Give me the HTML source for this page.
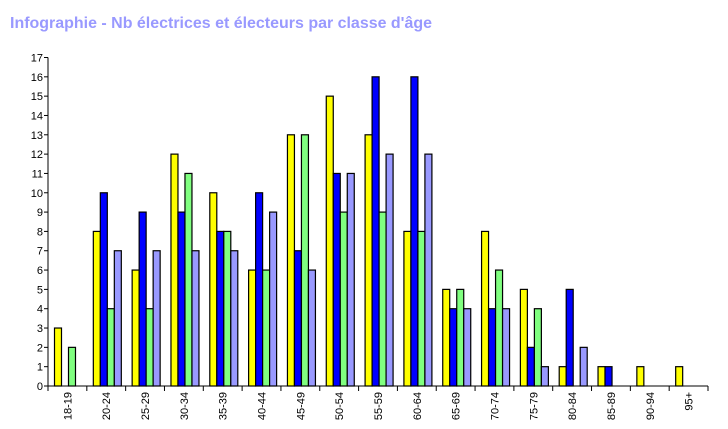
<!DOCTYPE html>
<html><head><meta charset="utf-8"><style>
body{margin:0;background:#fff;}
svg{display:block;font-family:"Liberation Sans",Arial,sans-serif;}
</style></head><body>
<svg id="chart" width="728" height="429" viewBox="0 0 728 429">
<text x="10" y="28" font-size="16" font-weight="bold" fill="#9999ff" textLength="422" lengthAdjust="spacingAndGlyphs">Infographie - Nb électrices et électeurs par classe d'âge</text>
<g id="plot"></g>
</svg>
<script>
const categories=["18-19","20-24","25-29","30-34","35-39","40-44","45-49","50-54","55-59","60-64","65-69","70-74","75-79","80-84","85-89","90-94","95+"];
const seriesYellow=[3,8,6,12,10,6,13,15,13,8,5,8,5,1,1,1,1];
const seriesBlue=[0,10,9,9,8,10,7,11,16,16,4,4,2,5,1,0,0];
const seriesGreen=[2,4,4,11,8,6,13,9,9,8,5,6,4,0,0,0,0];
const seriesLavender=[0,7,7,7,7,9,6,11,12,12,4,4,1,2,0,0,0];
const yTicks=[0,1,2,3,4,5,6,7,8,9,10,11,12,13,14,15,16,17];
const series=[seriesYellow,seriesBlue,seriesGreen,seriesLavender];
const colors=["#ffff00","#0000ff","#80ff80","#9999ff"];
const names=["yellow","blue","green","lavender"];
const NS="http://www.w3.org/2000/svg";
const g=document.getElementById('plot');
const x0=48,x1=708,y0=386,yTop=57.5,yMax=17;
const step=(x1-x0)/categories.length;
const yS=v=>y0-(y0-yTop)*v/yMax;
const xS=i=>x0+i*step;
function mk(t,a){const e=document.createElementNS(NS,t);for(const k in a)e.setAttribute(k,a[k]);g.appendChild(e);return e;}
// bars
series.forEach((s,si)=>{s.forEach((v,i)=>{
  const bx=xS(i)+6.5+si*7;
  const r=mk('rect',{x:bx,y:yS(v),width:7,height:y0-yS(v),fill:colors[si],stroke:'#000','stroke-width':1.2});
  
  
});});
// axes
const ya=mk('line',{x1:x0,y1:yTop,x2:x0,y2:y0,stroke:'#000','stroke-width':1});


const xa=mk('line',{x1:x0,y1:y0,x2:x1,y2:y0,stroke:'#000','stroke-width':1});


yTicks.forEach(t=>{
  mk('line',{x1:x0-4,y1:yS(t),x2:x0,y2:yS(t),stroke:'#000'});
  const tx=mk('text',{x:x0-5,y:yS(t)+4,'font-size':11,'text-anchor':'end',fill:'#000'});
  tx.textContent=t;
  
  
});
for(let i=0;i<=categories.length;i++) mk('line',{x1:xS(i),y1:y0,x2:xS(i),y2:y0+5,stroke:'#000'});
categories.forEach((c,i)=>{
  const cx=xS(i)+step/2+4;
  const tx=mk('text',{x:0,y:0,'font-size':11,'text-anchor':'end',fill:'#000',transform:`translate(${cx},392) rotate(-90)`});
  tx.textContent=c;
  
  
});
</script>
</body></html>
